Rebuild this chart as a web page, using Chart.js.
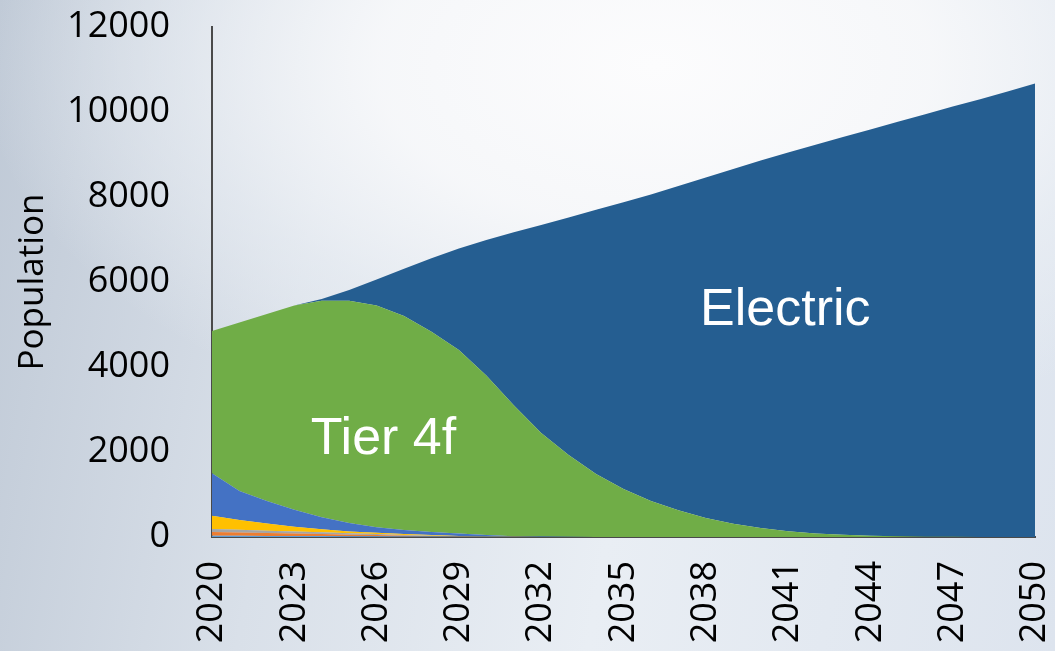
<!DOCTYPE html>
<html>
<head>
<meta charset="utf-8">
<script src="https://cdn.jsdelivr.net/npm/chart.js@4/dist/chart.umd.min.js"></script>
<style>
  html, body { margin: 0; padding: 0; }
  body {
    width: 1055px; height: 651px; overflow: hidden;
    background:
      radial-gradient(ellipse 75% 70% at 62% 10%, rgba(252,252,253,1) 0%, rgba(247,248,250,0.95) 35%, rgba(236,240,245,0.6) 60%, rgba(236,240,245,0) 85%),
      linear-gradient(100deg, #bfc9d6 0%, #d9e0e9 30%, #e9eef4 60%, #dde4ee 100%);
  }
  #wrap { position: relative; width: 1055px; height: 651px; }
</style>
</head>
<body>
<div id="wrap"><canvas id="chart" width="1055" height="651"></canvas></div>
<script>
const years = ['2020','2021','2022','2023','2024','2025','2026','2027','2028','2029',
               '2030','2031','2032','2033','2034','2035','2036','2037','2038','2039',
               '2040','2041','2042','2043','2044','2045','2046','2047','2048','2049','2050'];

// stacked from the bottom up
const tier0 = [30, 28, 26, 24, 22, 20, 17, 14, 10, 6, 3, 0, 0, 0, 0, 0, 0, 0, 0, 0, 0, 0, 0, 0, 0, 0, 0, 0, 0, 0, 0];
const tier1 = [85, 77, 69, 61, 48, 35, 28, 16, 10, 4, 2, 0, 0, 0, 0, 0, 0, 0, 0, 0, 0, 0, 0, 0, 0, 0, 0, 0, 0, 0, 0];
const tier2 = [75, 65, 55, 45, 40, 35, 25, 20, 10, 5, 0, 0, 0, 0, 0, 0, 0, 0, 0, 0, 0, 0, 0, 0, 0, 0, 0, 0, 0, 0, 0];
const tier3 = [310, 230, 170, 110, 70, 40, 30, 20, 15, 10, 7, 5, 0, 0, 0, 0, 0, 0, 0, 0, 0, 0, 0, 0, 0, 0, 0, 0, 0, 0, 0];
const tier4i = [1000, 680, 530, 400, 283, 200, 130, 95, 75, 55, 33, 15, 10, 5, 2, 0, 0, 0, 0, 0, 0, 0, 0, 0, 0, 0, 0, 0, 0, 0, 0];
const tier4f = [3350, 3970, 4400, 4810, 5097, 5230, 5220, 5035, 4710, 4320, 3755, 3080, 2440, 1925, 1478, 1130,
                850, 630, 450, 310, 210, 135, 85, 52, 30, 16, 8, 4, 2, 1, 0];
const electric = [0, 0, 0, 0, 40, 250, 610, 1110, 1730, 2390, 3190, 4070, 4890, 5590, 6220, 6745,
                  7210, 7630, 8010, 8350, 8650, 8915, 9145, 9358, 9560, 9754, 9942, 10126, 10300, 10480, 10670];

const yTicks = [0, 2000, 4000, 6000, 8000, 10000, 12000];

// text labels on the areas, in data units (category index, value)
const areaLabels = [
    { text: 'Tier 4f', x: 6.25, y: 2280 },
    { text: 'Electric', x: 20.9, y: 5320 }
];

function area(label, data, color, fill) {
    return {
        label: label,
        data: data,
        backgroundColor: color,
        borderColor: color,
        borderWidth: 0,
        pointRadius: 0,
        tension: 0,
        fill: fill
    };
}

const labelPlugin = {
    id: 'areaLabels',
    afterDatasetsDraw(chart) {
        const ctx = chart.ctx;
        const xs = chart.scales.x, ys = chart.scales.y;
        ctx.save();
        ctx.fillStyle = '#ffffff';
        ctx.font = '52px "Liberation Sans", Arial, sans-serif';
        ctx.textAlign = 'center';
        ctx.textBaseline = 'middle';
        areaLabels.forEach(l => {
            ctx.fillText(l.text, xs.getPixelForValue(l.x), ys.getPixelForValue(l.y));
        });
        ctx.restore();
    }
};

let ctx = document.getElementById('chart').getContext('2d');
let chart = new Chart(ctx, {
    type: 'line',
    data: {
        labels: years,
        datasets: [
            area('Tier 0', tier0, '#5B9BD5', 'origin'),
            area('Tier 1', tier1, '#ED7D31', '-1'),
            area('Tier 2', tier2, '#A5A5A5', '-1'),
            area('Tier 3', tier3, '#FFC000', '-1'),
            area('Tier 4i', tier4i, '#4472C4', '-1'),
            area('Tier 4f', tier4f, '#70AD47', '-1'),
            area('Electric', electric, '#255E91', '-1')
        ]
    },
    plugins: [labelPlugin],
    options: {
        responsive: false,
        animation: false,
        layout: { padding: { top: 27, right: 20, left: 0, bottom: 0 } },
        plugins: {
            legend: { display: false },
            tooltip: { enabled: false }
        },
        scales: {
            x: {
                offset: false,
                grid: { display: false, drawTicks: false },
                border: { display: true, color: '#4a4a4a', width: 2 },
                ticks: {
                    autoSkip: false,
                    maxRotation: 90,
                    minRotation: 90,
                    padding: 24,
                    color: '#000000',
                    font: { family: '"Open Sans", sans-serif', size: 36 },
                    callback: function(value, index) {
                        return index % 3 === 0 ? this.getLabelForValue(value) : '';
                    }
                },
                afterFit(scale) {
                    scale.height = 114;
                    scale.paddingLeft = 0;
                    scale.paddingRight = 0;
                }
            },
            y: {
                stacked: true,
                min: 0,
                max: 12000,
                grid: { display: false, drawTicks: false },
                border: { display: true, color: '#4a4a4a', width: 2 },
                afterBuildTicks(scale) { scale.ticks = yTicks.map(v => ({ value: v })); },
                ticks: {
                    padding: 42,
                    color: '#000000',
                    font: { family: '"Open Sans", sans-serif', size: 36 },
                    callback: v => String(v)
                },
                title: {
                    display: true,
                    text: 'Population',
                    color: '#000000',
                    padding: { top: 12, bottom: 0 },
                    font: { family: '"Open Sans", sans-serif', size: 35 }
                },
                afterFit(scale) {
                    scale.width = 212;
                    scale.paddingTop = 0;
                    scale.paddingBottom = 0;
                }
            }
        }
    }
});
</script>
</body>
</html>
